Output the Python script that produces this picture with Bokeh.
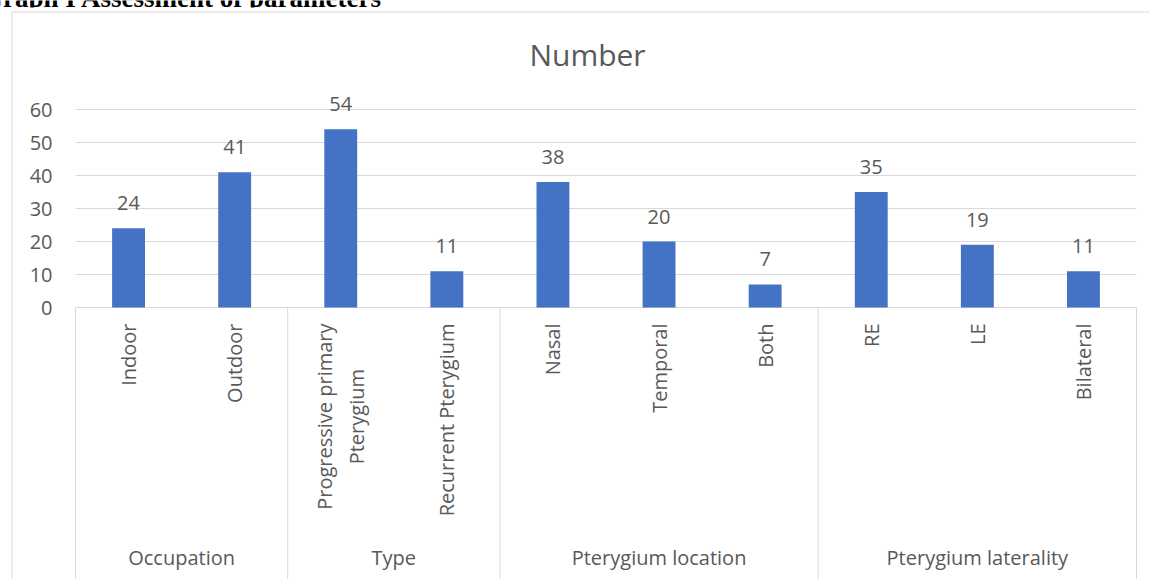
import math
from bokeh.plotting import figure
from bokeh.models import Range1d, ColumnDataSource, LabelSet
from bokeh.core.properties import value
from bokeh.embed import file_html
from bokeh.resources import INLINE

# ---- data ----
groups = ["Occupation", "Type", "Pterygium location", "Pterygium laterality"]
group_sizes = [2, 2, 3, 3]
categories = ["Indoor", "Outdoor", "Progressive primary\nPterygium", "Recurrent Pterygium",
              "Nasal", "Temporal", "Both", "RE", "LE", "Bilateral"]
values = [24, 41, 54, 11, 38, 20, 7, 35, 19, 11]
y_ticks = [0, 10, 20, 30, 40, 50, 60]
chart_title = "Number"
header = "Graph I Assessment of parameters"

# ---- layout constants (pixel geometry of the page) ----
W, H = 1150, 579
PX_LEFT = 75.0      # left edge of the plot area
STEP = 106.1        # pixels per category
Y0 = 307.0          # pixel row of value 0
PPU = 3.3           # pixels per unit of value

TEXT = "#595959"
GRID = "#d9d9d9"
BAR = "#4472C4"
FONT = value("Open Sans")


def dx(px):
    return (px - PX_LEFT) / STEP - 0.5


def dy(py):
    return (Y0 - py) / PPU


n = len(categories)

p = figure(width=W, height=H,
           x_range=Range1d(dx(0), dx(W)), y_range=Range1d(dy(H), dy(0)),
           output_backend="svg", toolbar_location=None, tools="",
           x_axis_type=None, y_axis_type=None, min_border=0,
           outline_line_color=None, background_fill_color="white",
           border_fill_color="white")

# header text of the page (partly hidden behind the chart area)
p.text(x=[dx(382)], y=[dy(-3)], text=[header], text_font=value("Liberation Serif"),
       text_font_style="bold", text_font_size="27px", text_align="right",
       text_baseline="middle", text_color="black")
p.quad(left=[dx(0)], right=[dx(W)], bottom=[dy(H)], top=[dy(7)],
       fill_color="white", line_color=None)

# chart area border (left and top visible)
p.segment(x0=[dx(11.5)], y0=[dy(11.5)], x1=[dx(11.5)], y1=[dy(H)],
          line_color=GRID, line_width=1)
p.segment(x0=[dx(11.5)], y0=[dy(11.5)], x1=[dx(W - 1)], y1=[dy(11.5)],
          line_color=GRID, line_width=1)

# gridlines and category axis line
p.segment(x0=[-0.5] * len(y_ticks), x1=[n - 0.5] * len(y_ticks),
          y0=y_ticks, y1=y_ticks, line_color=GRID, line_width=1)

# group separators
bounds = [-0.5]
for s in group_sizes:
    bounds.append(bounds[-1] + s)
p.segment(x0=bounds, x1=bounds, y0=[0] * len(bounds), y1=[dy(H)] * len(bounds),
          line_color=GRID, line_width=1)

# bars
src = ColumnDataSource(dict(x=list(range(n)), top=values, label=[str(v) for v in values]))
p.vbar(x="x", top="top", bottom=0, width=0.31, source=src, fill_color=BAR, line_color=None)

# data labels
p.add_layout(LabelSet(x="x", y="top", text="label", source=src, y_offset=18,
                      text_align="center", text_baseline="alphabetic",
                      text_font=FONT, text_font_size="20px", text_color=TEXT))

# y tick labels
p.text(x=[dx(52)] * len(y_ticks), y=y_ticks, text=[str(t) for t in y_ticks],
       text_align="right", text_baseline="middle", text_font=FONT,
       text_font_size="20px", text_color=TEXT)

# category labels (rotated)
p.text(x=list(range(n)), y=[dy(323)] * n, text=categories, angle=math.pi / 2,
       anchor=value("center_right"), text_align="center", text_baseline="middle",
       text_font=FONT, text_font_size="20px", text_color=TEXT, text_line_height=1.2)

# group labels
centers = [(bounds[i] + bounds[i + 1]) / 2 for i in range(len(groups))]
p.text(x=centers, y=[dy(557)] * len(groups), text=groups, text_align="center",
       text_baseline="middle", text_font=FONT, text_font_size="20px", text_color=TEXT)

# chart title
p.text(x=[dx(587)], y=[dy(54)], text=[chart_title], text_align="center",
       text_baseline="middle", text_font=FONT, text_font_size="30px", text_color=TEXT)

open("out.html", "w").write(file_html(p, INLINE))
